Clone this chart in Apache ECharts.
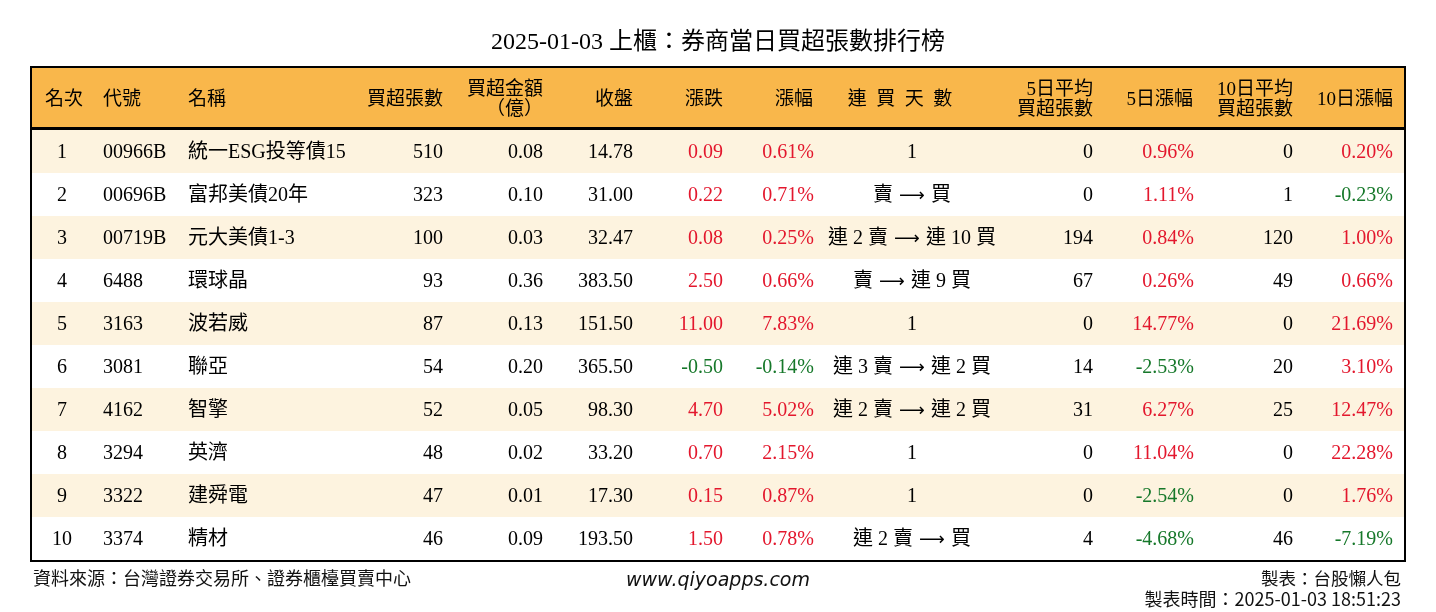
<!DOCTYPE html>
<html><head><meta charset="utf-8">
<script src="https://cdn.jsdelivr.net/npm/echarts@6/dist/echarts.min.js"></script>
<style>html,body{margin:0;padding:0;background:#fff}#c{width:1436px;height:612px}</style>
</head><body><div id="c"></div>
<script>
// ---- data ----
const titleText = '2025-01-03 上櫃：券商當日買超張數排行榜';
const headers = ['名次','代號','名稱','買超張數','買超金額\n（億）','收盤','漲跌','漲幅','連  買  天  數','5日平均\n買超張數','5日漲幅','10日平均\n買超張數','10日漲幅'];
const ranks = [1,2,3,4,5,6,7,8,9,10];
const codes = ['00966B','00696B','00719B','6488','3163','3081','4162','3294','3322','3374'];
const names = ['統一ESG投等債15','富邦美債20年','元大美債1-3','環球晶','波若威','聯亞','智擎','英濟','建舜電','精材'];
const netBuy = [510,323,100,93,87,54,52,48,47,46];
const amount = [0.08,0.10,0.03,0.36,0.13,0.20,0.05,0.02,0.01,0.09];
const closePx = [14.78,31.00,32.47,383.50,151.50,365.50,98.30,33.20,17.30,193.50];
const change = [0.09,0.22,0.08,2.50,11.00,-0.50,4.70,0.70,0.15,1.50];
const changePct = [0.61,0.71,0.25,0.66,7.83,-0.14,5.02,2.15,0.87,0.78];
const streak = ['1','賣 → 買','連 2 賣 → 連 10 買','賣 → 連 9 買','1','連 3 賣 → 連 2 買','連 2 賣 → 連 2 買','1','1','連 2 賣 → 買'];
const avg5 = [0,0,194,67,0,14,31,0,0,4];
const pct5 = [0.96,1.11,0.84,0.26,14.77,-2.53,6.27,11.04,-2.54,-4.68];
const avg10 = [0,1,120,49,0,20,25,0,0,46];
const pct10 = [0.20,-0.23,1.00,0.66,21.69,3.10,12.47,22.28,1.76,-7.19];
const sourceText = '資料來源：台灣證券交易所、證券櫃檯買賣中心';
const siteText = 'www.qiyoapps.com';
const makerText = '製表：台股懶人包';
const timeText = '製表時間：2025-01-03 18:51:23';

// ---- layout / style ----
const FONT = '"Liberation Serif","Noto Sans CJK TC",serif';
const RED = '#e3172d', GREEN = '#16782a', BLACK = '#000';
const TL = 31, TR = 1405, TT = 67, TB = 561, HB = 129;
const cols = [
  {x:62, a:'center', hx:64, ha:'center'},
  {x:103, a:'left', hx:103, ha:'left'},
  {x:188, a:'left', hx:188, ha:'left'},
  {x:443, a:'right', hx:443, ha:'right'},
  {x:543, a:'right', hx:543, ha:'right'},
  {x:633, a:'right', hx:633, ha:'right'},
  {x:723, a:'right', hx:723, ha:'right'},
  {x:814, a:'right', hx:813, ha:'right'},
  {x:912, a:'center', hx:900, ha:'center'},
  {x:1093, a:'right', hx:1093, ha:'right'},
  {x:1194, a:'right', hx:1193, ha:'right'},
  {x:1293, a:'right', hx:1293, ha:'right'},
  {x:1393, a:'right', hx:1393, ha:'right'}
];
const signColor = v => v > 0 ? RED : (v < 0 ? GREEN : BLACK);
function cellTexts(i){
  return [
    [String(ranks[i]), BLACK],
    [codes[i], BLACK],
    [names[i], BLACK],
    [String(netBuy[i]), BLACK],
    [amount[i].toFixed(2), BLACK],
    [closePx[i].toFixed(2), BLACK],
    [change[i].toFixed(2), signColor(change[i])],
    [changePct[i].toFixed(2)+'%', signColor(changePct[i])],
    [streak[i].replace(' → ', '{ar|⟶}'), BLACK],
    [String(avg5[i]), BLACK],
    [pct5[i].toFixed(2)+'%', signColor(pct5[i])],
    [String(avg10[i]), BLACK],
    [pct10[i].toFixed(2)+'%', signColor(pct10[i])]
  ];
}

const chart = echarts.init(document.getElementById('c'), null, {renderer:'canvas'});
const graphics = [];
graphics.push({type:'rect', shape:{x:TL, y:TT, width:TR-TL, height:HB-TT}, style:{fill:'#f9b74b'}, z:1});
headers.forEach((h, k) => {
  graphics.push({type:'text', x:cols[k].hx, y:(TT+HB)/2+2, z:5,
    style:{text:h, font:'19px '+FONT, fill:BLACK, align:cols[k].ha, verticalAlign:'middle', lineHeight:20}});
});
graphics.push({type:'rect', shape:{x:TL, y:HB-2, width:TR-TL, height:3}, style:{fill:'#000'}, z:6});
graphics.push({type:'rect', shape:{x:TL, y:TT, width:TR-TL, height:TB-TT}, style:{fill:null, stroke:'#000', lineWidth:2}, z:7});
graphics.push({type:'text', x:718, y:43, z:5, style:{text:titleText, font:'24px '+FONT, fill:BLACK, align:'center', verticalAlign:'middle'}});
graphics.push({type:'text', x:33, y:578, z:5, style:{text:sourceText, font:'18px "Noto Sans CJK TC",sans-serif', fill:'#111', align:'left', verticalAlign:'middle'}});
graphics.push({type:'text', x:718, y:581, z:5, style:{text:siteText, font:'italic 19px "DejaVu Sans",sans-serif', fill:'#111', align:'center', verticalAlign:'middle'}});
graphics.push({type:'text', x:1401, y:578, z:5, style:{text:makerText, font:'17.5px "Noto Sans CJK TC",sans-serif', fill:'#111', align:'right', verticalAlign:'middle'}});
graphics.push({type:'text', x:1401, y:599, z:5, style:{text:timeText, font:'18px "Noto Sans CJK TC",sans-serif', fill:'#111', align:'right', verticalAlign:'middle'}});

chart.setOption({
  animation:false,
  backgroundColor:'#fff',
  grid:{left:TL, right:1436-TR, top:HB+1, bottom:612-TB+1},
  xAxis:{type:'value', min:TL, max:TR, show:false},
  yAxis:{type:'category', data:ranks.map(String), inverse:true, show:false},
  graphic:graphics,
  series:[{
    type:'custom',
    coordinateSystem:'cartesian2d',
    data:ranks.map((r,i)=>[TL, i]),
    encode:{x:0, y:1},
    z:2,
    renderItem:function(params, api){
      const i = params.dataIndex;
      const c = api.coord([TL, i]);
      const bandH = api.size([0,1])[1];
      const children = [];
      children.push({type:'rect', shape:{x:TL, y:c[1]-bandH/2, width:TR-TL, height:bandH},
        style:{fill: i%2===0 ? '#fdf3df' : '#ffffff'}});
      cellTexts(i).forEach((t,k)=>{
        const px = api.coord([cols[k].x, i])[0];
        children.push({type:'text', x:px, y:c[1]+1.5,
          style:{text:t[0], font:'20px '+FONT, fill:t[1], align:cols[k].a, verticalAlign:'middle',
            rich:{ar:{font:'18px "DejaVu Sans",sans-serif', fill:BLACK, padding:[0,6,0,6]}}}});
      });
      return {type:'group', children:children};
    }
  }]
});
</script></body></html>
